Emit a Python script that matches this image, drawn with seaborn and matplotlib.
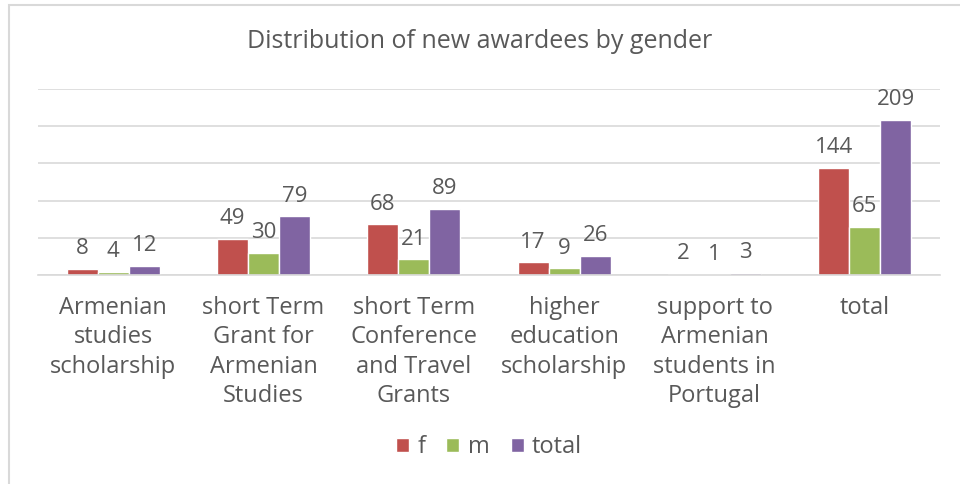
import pandas as pd
import seaborn as sns
import matplotlib.pyplot as plt
from matplotlib.patches import Rectangle

categories = ["Armenian\nstudies\nscholarship",
              "short Term\nGrant for\nArmenian\nStudies",
              "short Term\nConference\nand Travel\nGrants",
              "higher\neducation\nscholarship",
              "support to\nArmenian\nstudents in\nPortugal",
              "total"]
f_vals = [8, 49, 68, 17, 2, 144]
m_vals = [4, 30, 21, 9, 1, 65]
total_vals = [12, 79, 89, 26, 3, 209]
series = ["f", "m", "total"]
colors = ["#C0504D", "#9BBB59", "#8064A2"]

rows = []
for s, vals in zip(series, [f_vals, m_vals, total_vals]):
    for c, v in zip(categories, vals):
        rows.append({"category": c, "series": s, "value": v})
df = pd.DataFrame(rows)

sns.set_theme(style="white")
plt.rcParams["font.family"] = ["Open Sans", "DejaVu Sans"]
txt = "#595959"

fig = plt.figure(figsize=(9.6, 4.84), dpi=100)
ax = fig.add_axes([38 / 960, 209 / 484, 902 / 960, 186 / 484])

sns.barplot(data=df, x="category", y="value", hue="series", palette=colors,
            width=0.62, saturation=1, ax=ax, legend=True)

ax.set_ylim(0, 250)
ax.set_yticks(range(0, 251, 50))
ax.yaxis.grid(True, color="#D9D9D9", linewidth=1.2)
ax.set_axisbelow(True)
ax.tick_params(axis="y", left=False, labelleft=False)
ax.tick_params(axis="x", bottom=False, colors=txt, labelsize=17, pad=9)
for lbl in ax.get_xticklabels():
    lbl.set_linespacing(1.3)
for sp in ["top", "right", "left"]:
    ax.spines[sp].set_visible(False)
ax.spines["bottom"].set_color("#D9D9D9")
ax.spines["bottom"].set_linewidth(1.2)
ax.set_xlabel("")
ax.set_ylabel("")

for cont in ax.containers:
    ax.bar_label(cont, padding=7, fontsize=16, color=txt)

fig.text(0.5, 1 - 42 / 484, "Distribution of new awardees by gender",
         ha="center", va="center", fontsize=18, color=txt)

leg = ax.legend(loc="center", bbox_to_anchor=(0.5, (447 - 275) / -186.0),
                ncol=3, frameon=False, fontsize=17, handlelength=0.55,
                handleheight=0.55, handletextpad=0.35, columnspacing=0.9)
for t in leg.get_texts():
    t.set_color(txt)

fig.patches.append(Rectangle((9 / 960, -0.1), 1.1, 1 - 5 / 484 + 0.1,
                             transform=fig.transFigure, fill=False,
                             edgecolor="#D9D9D9", linewidth=1.5))

fig.savefig("out.png", dpi=100)
